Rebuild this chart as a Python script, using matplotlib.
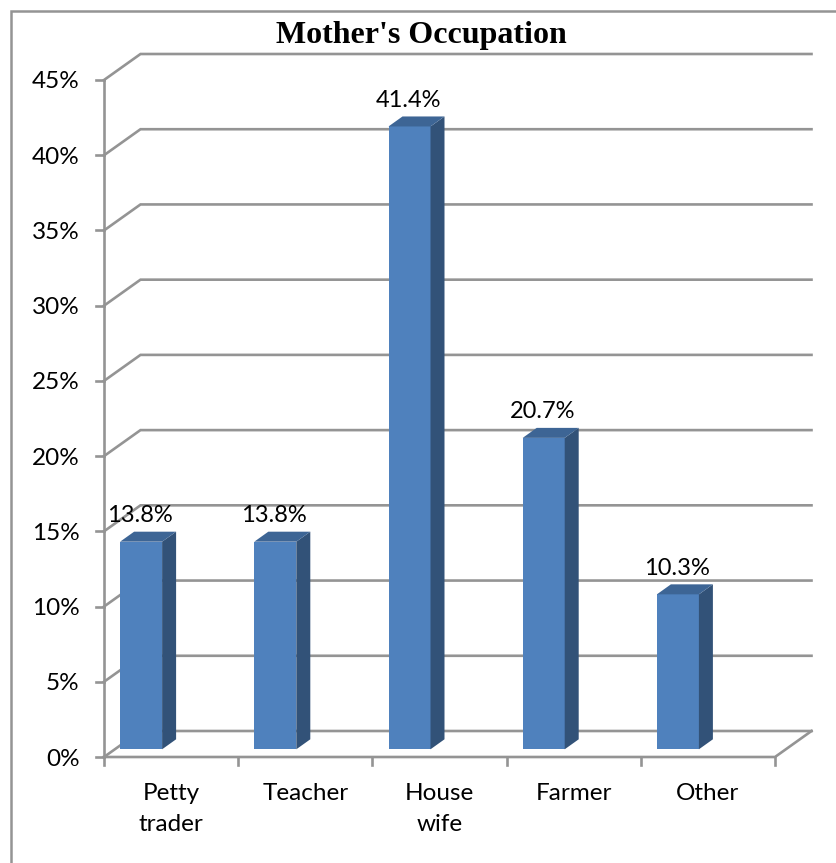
import matplotlib
matplotlib.use("Agg")
import matplotlib.pyplot as plt
from matplotlib.patches import Polygon

categories = ["Petty\ntrader", "Teacher", "House\nwife", "Farmer", "Other"]
values = [13.8, 13.8, 41.4, 20.7, 10.3]
labels = ["13.8%", "13.8%", "41.4%", "20.7%", "10.3%"]
yticks = [0, 5, 10, 15, 20, 25, 30, 35, 40, 45]

W, H = 837, 863
GREY = "#949494"
FRONT = "#4f81bd"
SIDE = "#325278"
TOP = "#3d6595"

plt.rcParams["font.family"] = ["Lato", "DejaVu Sans"]

fig = plt.figure(figsize=(W / 100, H / 100), dpi=100)
# front plane of the fake 3d box
ax = fig.add_axes([104 / W, (H - 757) / H, 671 / W, 677 / H])
ax.set_xlim(0, 5)
ax.set_ylim(0, 45)
ax.axis("off")

px_x = 5 / 671
px_y = 45 / 677
dx = 36.5 * px_x
dy = 26 * px_y

# chart border, only top and left are in the crop
fig.add_artist(plt.Line2D([11 / W, 11 / W, 1], [0, (H - 11) / H, (H - 11) / H], color=GREY, lw=1.8,
                          transform=fig.transFigure, solid_joinstyle="miter"))

# gridlines and side wall
for t in yticks:
    ax.plot([0, dx, 5 + dx], [t, t + dy, t + dy], color=GREY, lw=1.9, clip_on=False, zorder=1,
            solid_joinstyle="miter")
    ax.plot([-8 * px_x, 0], [t, t], color=GREY, lw=1.9, clip_on=False, zorder=1)
    ax.text(-24.5 * px_x, t - 2 * px_y, f"{t}%", ha="right", va="center", fontsize=17.5, color="black")

# axis lines
ax.plot([0, 0], [0, 45], color=GREY, lw=1.9, clip_on=False, zorder=1)
ax.plot([0, 5, 5 + dx], [0, 0, dy], color=GREY, lw=1.9, clip_on=False, zorder=1)
for i in range(6):
    ax.plot([i, i], [0, -8 * px_y], color=GREY, lw=1.9, clip_on=False, zorder=1)

# bars
bw = 42 * px_x
bdx = 14 * px_x
bdy = 10 * px_y
base = 7.7 * px_y
for i, v in enumerate(values):
    x0 = i + 0.5 - 30 * px_x - bw / 2
    x1 = x0 + bw
    ax.add_patch(Polygon([(x0, base), (x1, base), (x1, v + base), (x0, v + base)],
                         fc=FRONT, ec="none", zorder=3, clip_on=False))
    ax.add_patch(Polygon([(x1, base), (x1 + bdx, base + bdy), (x1 + bdx, v + base + bdy), (x1, v + base)],
                         fc=SIDE, ec="none", zorder=3, clip_on=False))
    ax.add_patch(Polygon([(x0, v + base), (x1, v + base), (x1 + bdx, v + base + bdy), (x0 + bdx, v + base + bdy)],
                         fc=TOP, ec="none", zorder=3, clip_on=False))
    ax.text((x0 + x1) / 2 - 1 * px_x, v + base + 15.5 * px_y, labels[i], ha="center", va="bottom",
            fontsize=17, color="black", zorder=4)

for i, c in enumerate(categories):
    ax.text(i + 0.5, -26 * px_y, c, ha="center", va="top", fontsize=17.5, color="black",
            linespacing=1.57, clip_on=False)

fig.text(421 / W, (H - 36) / H, "Mother's Occupation", ha="center", va="center",
         fontsize=23, fontweight="bold", family="Liberation Serif", color="black")

fig.savefig("out.png", dpi=100)
